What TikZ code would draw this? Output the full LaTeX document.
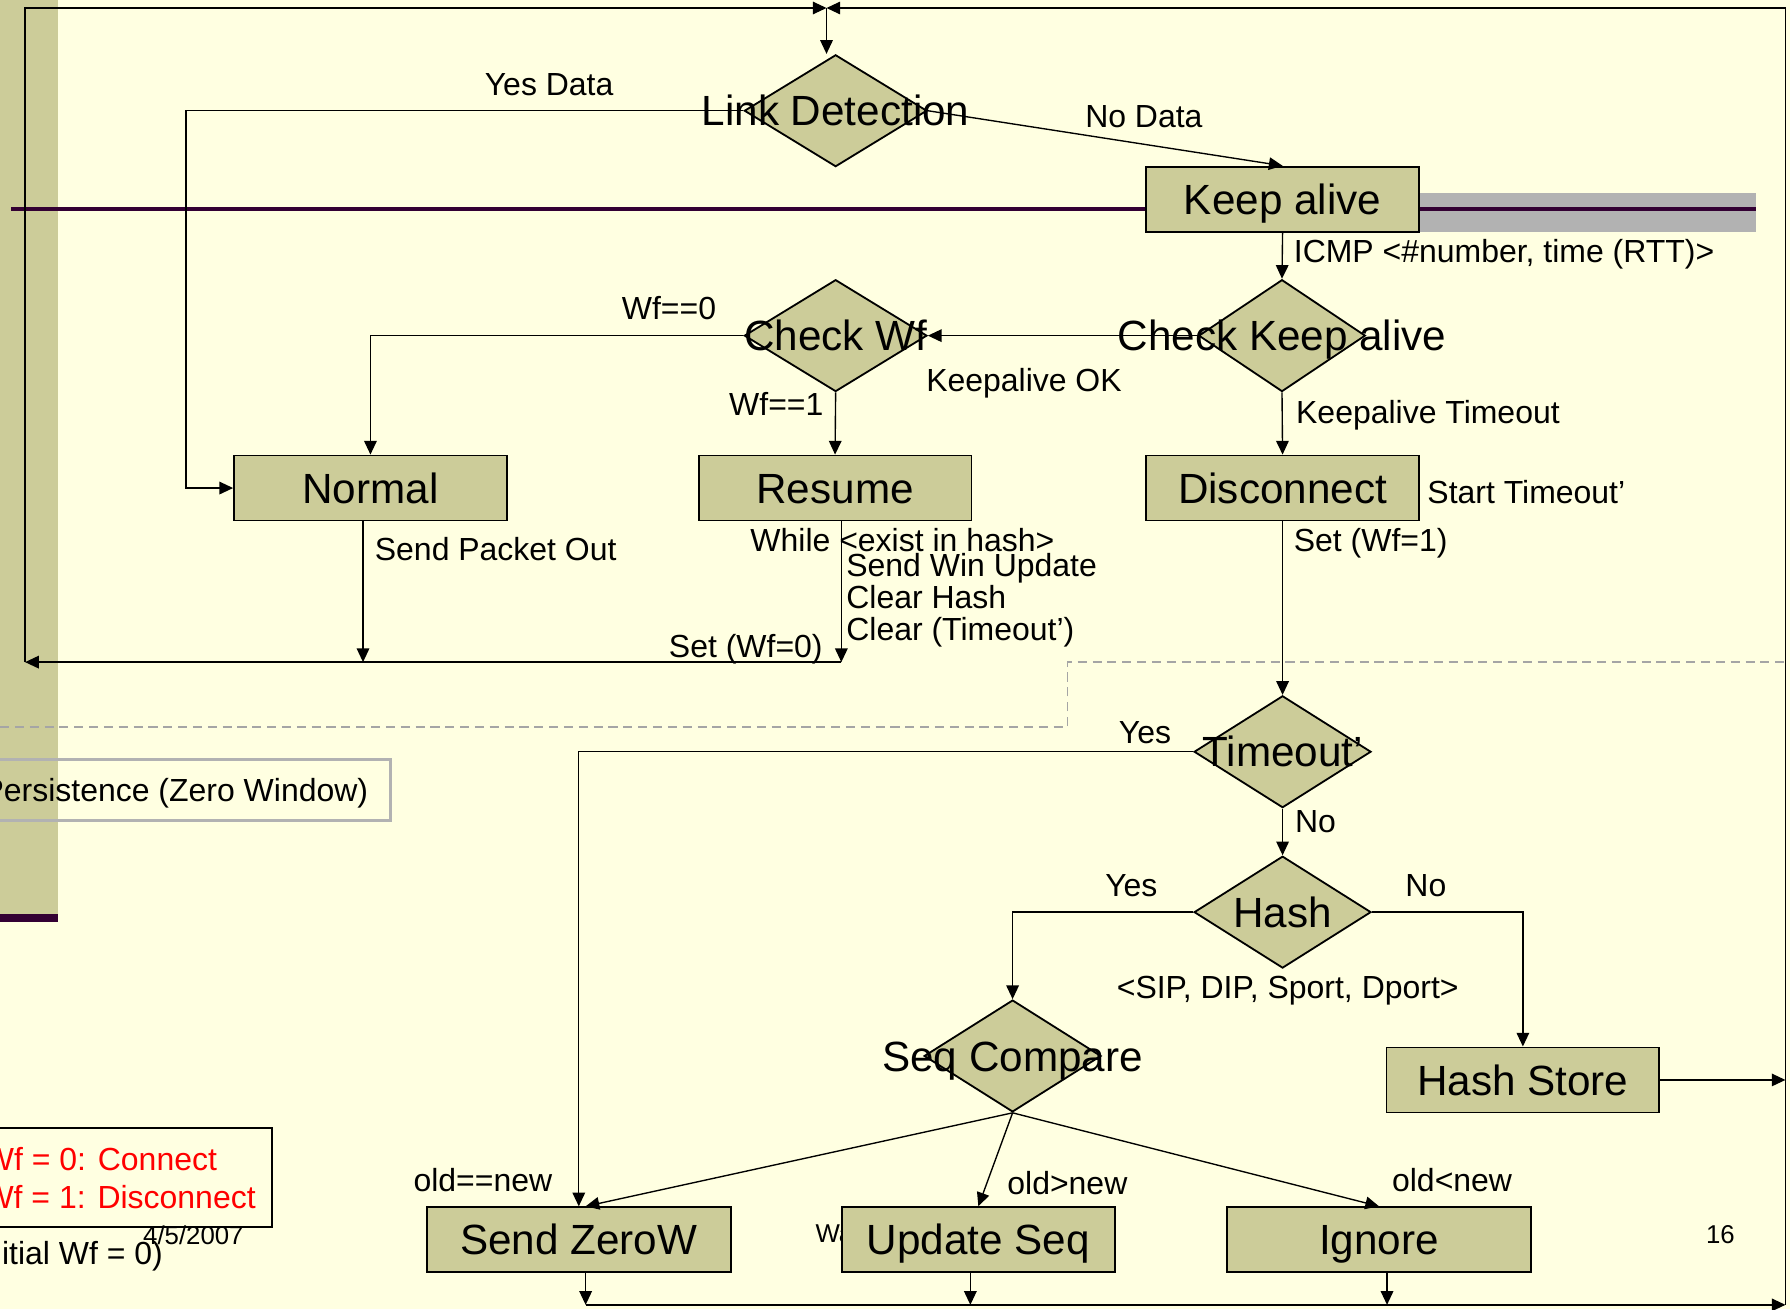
\documentclass[tikz,border=0pt]{standalone}
\usepackage{fontspec}
\setmainfont{Liberation Sans}
\usetikzlibrary{shapes.geometric,arrows.meta,calc}

\definecolor{bgyellow}{RGB}{255,255,225}
\definecolor{boxolive}{RGB}{204,204,153}
\definecolor{plum}{RGB}{51,0,51}
\definecolor{bandgray}{RGB}{178,178,178}
\definecolor{dashgray}{RGB}{165,165,165}

\newcommand{\lblbig}{\fontsize{18.5pt}{22pt}\selectfont}
\newcommand{\lblsmall}{\fontsize{14pt}{17pt}\selectfont}
\newcommand{\lblfoot}{\fontsize{11.3pt}{13.5pt}\selectfont}

\begin{document}
\begin{tikzpicture}[x=0.5pt,y=-0.5pt,
  conn/.style={draw=black, line width=0.6pt},
  arr/.style={conn, -{Triangle[length=6pt,width=5.5pt]}},
  stbox/.style={draw=black, line width=0.8pt, fill=boxolive, inner sep=0pt,
    minimum width=119.5pt, minimum height=28.5pt, font=\lblbig,
    text height=13.25pt, text depth=0pt},
  dmd/.style={shape=diamond, draw=black, line width=0.8pt, fill=boxolive,
    inner sep=0pt, minimum width=80pt, minimum height=49pt},
  bigtxt/.style={inner sep=0pt, font=\lblbig, text height=13.25pt, text depth=0pt},
  sm/.style={inner sep=0pt, font=\lblsmall, text height=10pt, text depth=0pt},
  ft/.style={inner sep=0pt, font=\lblfoot, text height=8.1pt, text depth=0pt}]

\useasboundingbox (0,0) rectangle (1568,1147);
\clip (0,0) rectangle (1568,1147);

% slide background, side strip and title rule
\fill[bgyellow] (0,0) rectangle (1568,1147);
\fill[boxolive] (0,0) rectangle (51,808);
\fill[plum] (0,801) rectangle (51,808);
\fill[bandgray] (1130,169) rectangle (1538,203);
\draw[plum, line width=2pt] (10,183) -- (1538,183);

% dashed separator
\draw[dashgray, line width=0.7pt, dash pattern=on 4pt off 2.5pt]
  (0,637) -- (935,637) -- (935,580) -- (1568,580);

% side notes
\draw[bandgray, line width=1.4pt] (-20,665) rectangle (342,719);
\node[sm, anchor=west] (pers) at (-15.6,692) {Persistence (Zero Window)};
\draw[black, line width=0.8pt] (-20,988) rectangle (238,1075);
\node[sm, anchor=west, text=red] (wf0) at (-14.5,1015) {Wf = 0: Connect};
\node[sm, anchor=west, text=red] (wf1) at (-14.8,1049) {Wf = 1: Disconnect};
\node[sm, anchor=east] (init) at (143,1098) {(Initial Wf = 0)};
\node[ft, anchor=west] (date) at (125,1082) {4/5/2007};
\node[ft] (pnum) at (1507,1081) {16};
\node[ft, anchor=west] (wait) at (714,1080) {Wa};

% process boxes
\node[stbox] (ka)  at (1123.5,174.5) {Keep alive};
\node[stbox] (nor) at (324.5,427.5) {Normal};
\node[stbox] (res) at (731.5,427.5) {Resume};
\node[stbox] (dis) at (1123.5,427.5) {Disconnect};
\node[stbox] (hs)  at (1334,946) {Hash Store};
\node[stbox, minimum width=133pt] (sz) at (507,1086) {Send ZeroW};
\node[stbox] (us)  at (857,1086) {Update Seq};
\node[stbox, minimum width=133pt] (ig) at (1208,1086) {Ignore};

% decisions
\node[dmd] (ld)  at (732,97) {};
\node[dmd] (cwf) at (732,294) {};
\node[dmd, minimum width=73pt] (cka) at (1123,294) {};
\node[dmd, minimum width=77.5pt] (to)   at (1123.5,658.5) {};
\node[dmd, minimum width=77.5pt] (hash) at (1123.5,799) {};
\node[dmd, minimum width=77.5pt] (seq)  at (887,925) {};

% loop corners
\coordinate (tmid)  at (724,7);
\coordinate (ltop)  at (22,7);
\coordinate (lbot)  at (22,580);
\coordinate (rtop)  at (1564,7);
\coordinate (rbot)  at (1564,1143);
\coordinate (ydat)  at (163,97);
\coordinate (nbot)  at (318,580);
\coordinate (rsbot) at (737,580);
\coordinate (bsz)   at (513,1143);
\coordinate (bus)   at (850,1143);
\coordinate (bign)  at (1215,1143);

% connectors
\draw[arr] (lbot) -- (ltop) -- (tmid);
\draw[arr] (rbot) -- (rtop) -- (tmid);
\draw[arr] (tmid) -- (tmid |- ld.north);
\draw[arr] (ld.west) -- (ydat) |- (nor.west);
\draw[arr] (ld.east) -- (ka.north);
\draw[arr] (ka.south) -- (cka.north);
\draw[arr] (cka.west) -- (cwf.east);
\draw[arr] (cka.south) -- (dis.north);
\draw[arr] (cwf.west) -| (nor.north);
\draw[arr] (cwf.south) -- (res.north);
\draw[arr] (nbot |- nor.south) -- (nbot);
\draw[arr] (rsbot |- res.south) -- (rsbot);
\draw[arr] (rsbot) -- (lbot);
\draw[arr] (dis.south) -- (to.north);
\draw[arr] (to.west) -| (sz.north);
\draw[arr] (to.south) -- (hash.north);
\draw[arr] (hash.west) -| (seq.north);
\draw[arr] (hash.east) -| (hs.north);
\draw[arr] (hs.east) -- (hs.east -| rbot);
\draw[arr] (seq.south) -- ($(sz.north)+(6,0)$);
\draw[arr] (seq.south) -- (us.north);
\draw[arr] (seq.south) -- (ig.north);
\draw[arr] (bsz |- sz.south) -- (bsz);
\draw[arr] (bus |- us.south) -- (bus);
\draw[arr] (bign |- ig.south) -- (bign);
\draw[arr] (bsz) -- (rbot);

% decision texts
\node[bigtxt] (ld-t)   at (ld)   {Link Detection};
\node[bigtxt] (cwf-t)  at (cwf)  {Check Wf};
\node[bigtxt] (cka-t)  at (cka)  {Check Keep alive};
\node[bigtxt] (to-t)   at (to)   {Timeout’};
\node[bigtxt] (hash-t) at (hash) {Hash};
\node[bigtxt] (seq-t)  at (seq)  {Seq Compare};

% connector labels
\node[sm] at (481,74) {Yes Data};
\node[sm] at (1002,102) {No Data};
\node[sm, anchor=west] at (1133,220) {ICMP <\#number, time (RTT)>};
\node[sm] at (586,270) {Wf==0};
\node[sm] at (897,333) {Keepalive OK};
\node[sm] at (680,354) {Wf==1};
\node[sm, anchor=west] at (1135,361) {Keepalive Timeout};
\node[sm, anchor=west] at (1250,431) {Start Timeout’};
\node[sm, anchor=west] at (328,481) {Send Packet Out};
\node[sm, anchor=west] at (657,473) {While <exist in hash>};
\node[sm, anchor=west] at (741,495) {Send Win Update};
\node[sm, anchor=west] at (741,523) {Clear Hash};
\node[sm, anchor=west] at (741,551) {Clear (Timeout’)};
\node[sm, anchor=east] at (721,566) {Set (Wf=0)};
\node[sm, anchor=west] at (1133,473) {Set (Wf=1)};
\node[sm] at (1003,641) {Yes};
\node[sm, anchor=west] at (1134,719) {No};
\node[sm] at (991,775) {Yes};
\node[sm] at (1249,775) {No};
\node[sm] at (1128,865) {<SIP, DIP, Sport, Dport>};
\node[sm] at (423,1034) {old==new};
\node[sm] at (935,1036) {old>new};
\node[sm] at (1272,1034) {old<new};

\end{tikzpicture}
\end{document}
